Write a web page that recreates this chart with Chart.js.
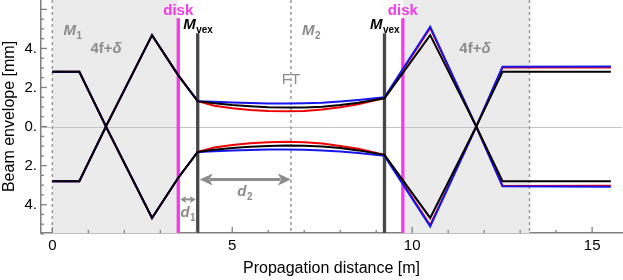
<!DOCTYPE html>
<html>
<head>
<meta charset="utf-8">
<script src="https://cdn.jsdelivr.net/npm/chart.js@4.4.1/dist/chart.umd.min.js"></script>
<style>
  html, body { margin: 0; padding: 0; background: #fff; }
</style>
</head>
<body>
<canvas id="envelopeChart" width="623" height="280"></canvas>
<script>
// beam half-width [mm] versus propagation distance [m]
// first section (4f+delta telescope up to the first convex mirror), same for all three beams
var zIn = [0, 0.75, 1.49, 2.77, 3.5, 4.04];
var wIn = [2.8, 2.8, 0, 4.68, 2.62, 1.3];

// between the two convex mirrors
var zMid = [4.04, 4.5, 5, 5.5, 6, 6.5, 7, 7.5, 8, 8.5, 9.23];
var wBlackMid = [1.3, 1.19, 1.1, 1.04, 0.99, 0.97, 0.98, 1.02, 1.1, 1.22, 1.45];
var wRedMid = [1.3, 1.07, 0.94, 0.85, 0.8, 0.78, 0.8, 0.87, 0.99, 1.14, 1.45];
var wBlueMid = [1.3, 1.27, 1.23, 1.2, 1.18, 1.18, 1.19, 1.22, 1.28, 1.36, 1.5];

// after the second convex mirror
var zOut = [9.23, 10.5, 11.78, 12.51, 15.52];
var wBlackOut = [1.45, 4.68, 0, 2.8, 2.8];
var wRedOut = [1.45, 5.05, 0, 3.04, 3.03];
var wBlueOut = [1.5, 5.11, 0, 3.06, 3.08];

// optical elements [m]
var diskPos = [3.5, 9.74];
var mvexPos = [4.04, 9.23];
var planePos = [0, 6.63, 13.26];
var shadeRanges = [[0, 3.5], [9.74, 13.26]];

var xMajor = [0, 5, 10, 15];
var yLabels = [-4, -2, 0, 2, 4];

var FONT = "'Liberation Sans', Arial, Helvetica, sans-serif";
Chart.defaults.font.family = FONT;

function envelope(wMid, wOut, sign) {
  var pts = [];
  zIn.forEach(function (z, i) { pts.push({ x: z, y: sign * wIn[i] }); });
  zMid.forEach(function (z, i) { if (i > 0) pts.push({ x: z, y: sign * wMid[i] }); });
  zOut.forEach(function (z, i) { if (i > 0) pts.push({ x: z, y: sign * wOut[i] }); });
  return pts;
}

function line(data, color) {
  return {
    data: data,
    showLine: true,
    borderColor: color,
    borderWidth: 2,
    pointRadius: 0,
    fill: false,
    tension: 0
  };
}

function drawSub(ctx, main, subTxt, x, y, color, mainFont, subFont, center) {
  ctx.font = mainFont;
  var w1 = ctx.measureText(main).width;
  ctx.font = subFont;
  var w2 = ctx.measureText(subTxt).width;
  var x0 = center ? x - (w1 + w2) / 2 : x;
  ctx.fillStyle = color;
  ctx.textAlign = "left";
  ctx.textBaseline = "alphabetic";
  ctx.font = mainFont;
  ctx.fillText(main, x0, y);
  ctx.font = subFont;
  ctx.fillText(subTxt, x0 + w1 + 0.5, y + 4);
}

function arrow(ctx, x1, x2, y, head, half, lw, color) {
  ctx.strokeStyle = color;
  ctx.fillStyle = color;
  ctx.lineWidth = lw;
  ctx.beginPath();
  ctx.moveTo(x1 + head * 0.8, y);
  ctx.lineTo(x2 - head * 0.8, y);
  ctx.stroke();
  ctx.beginPath();
  ctx.moveTo(x1, y);
  ctx.lineTo(x1 + head, y - half);
  ctx.lineTo(x1 + head * 0.75, y);
  ctx.lineTo(x1 + head, y + half);
  ctx.closePath();
  ctx.fill();
  ctx.beginPath();
  ctx.moveTo(x2, y);
  ctx.lineTo(x2 - head, y - half);
  ctx.lineTo(x2 - head * 0.75, y);
  ctx.lineTo(x2 - head, y + half);
  ctx.closePath();
  ctx.fill();
}

var setup = {
  id: "setup",
  beforeDatasetsDraw: function (chart) {
    var ctx = chart.ctx, a = chart.chartArea;
    var xs = chart.scales.x, ys = chart.scales.y;
    ctx.save();
    // shaded telescope regions
    ctx.fillStyle = "#ebebeb";
    shadeRanges.forEach(function (r) {
      var l = xs.getPixelForValue(r[0]), rr = xs.getPixelForValue(r[1]);
      ctx.fillRect(l, a.top, rr - l, a.bottom - a.top);
    });
    // zero line
    ctx.strokeStyle = "#c4c4c4";
    ctx.lineWidth = 1;
    var y0 = Math.round(ys.getPixelForValue(0)) + 0.5;
    ctx.beginPath();
    ctx.moveTo(a.left, y0);
    ctx.lineTo(a.right, y0);
    ctx.stroke();
    // dashed planes
    ctx.strokeStyle = "#9a9a9a";
    ctx.lineWidth = 1.5;
    ctx.setLineDash([3, 3]);
    planePos.forEach(function (p) {
      var x = xs.getPixelForValue(p);
      ctx.beginPath();
      ctx.moveTo(x, a.top);
      ctx.lineTo(x, a.bottom);
      ctx.stroke();
    });
    ctx.setLineDash([]);
    // disks
    ctx.strokeStyle = "#f23ce8";
    ctx.lineWidth = 3.3;
    diskPos.forEach(function (p) {
      var x = xs.getPixelForValue(p);
      ctx.beginPath();
      ctx.moveTo(x, ys.getPixelForValue(5.55));
      ctx.lineTo(x, a.bottom);
      ctx.stroke();
    });
    // convex mirrors
    ctx.strokeStyle = "#474747";
    ctx.lineWidth = 3.3;
    mvexPos.forEach(function (p) {
      var x = xs.getPixelForValue(p);
      ctx.beginPath();
      ctx.moveTo(x, ys.getPixelForValue(4.78));
      ctx.lineTo(x, a.bottom);
      ctx.stroke();
    });
    ctx.restore();
  },
  afterDatasetsDraw: function (chart) {
    var ctx = chart.ctx, a = chart.chartArea;
    var xs = chart.scales.x, ys = chart.scales.y;
    var X = function (v) { return xs.getPixelForValue(v); };
    var Y = function (v) { return ys.getPixelForValue(v); };
    var gray = "#8c8c8c";
    ctx.save();

    // labels
    diskPos.forEach(function (p) {
      ctx.font = "bold 15px " + FONT;
      ctx.fillStyle = "#f23ce8";
      ctx.textAlign = "center";
      ctx.textBaseline = "alphabetic";
      ctx.fillText("disk", X(p), Y(5.71));
    });
    mvexPos.forEach(function (p) {
      drawSub(ctx, "M", "vex", X(p), Y(4.99), "#000",
        "italic bold 15px " + FONT, "bold 10px " + FONT, true);
    });
    drawSub(ctx, "M", "1", X(0.31), Y(4.68), gray, "italic bold 15px " + FONT, "bold 10px " + FONT, false);
    drawSub(ctx, "M", "2", X(6.94), Y(4.68), gray, "italic bold 15px " + FONT, "bold 10px " + FONT, false);
    [1.06, 11.31].forEach(function (p) {
      ctx.font = "bold 15px " + FONT;
      ctx.fillStyle = gray;
      ctx.textAlign = "left";
      var w = ctx.measureText("4f+").width;
      ctx.fillText("4f+", X(p), Y(3.76));
      ctx.font = "italic bold 15px " + FONT;
      ctx.fillText("\u03b4", X(p) + w, Y(3.76));
    });
    ctx.font = "15px " + FONT;
    ctx.fillStyle = gray;
    ctx.textAlign = "center";
    ctx.fillText("FT", X(6.63), Y(2.17));

    // distances
    arrow(ctx, X(mvexPos[0]) + 2, X(planePos[1]), Y(-2.71), 13, 6, 3, gray);
    drawSub(ctx, "d", "2", X(5.14), Y(-3.58), gray, "italic bold 15px " + FONT, "bold 10px " + FONT, false);
    arrow(ctx, X(diskPos[0]) + 2, X(mvexPos[0]) - 2, Y(-3.73), 6, 3.5, 2, gray);
    drawSub(ctx, "d", "1", X(3.56), Y(-4.65), gray, "italic bold 15px " + FONT, "bold 10px " + FONT, false);

    // inward frame ticks
    ctx.strokeStyle = "#808080";
    ctx.lineWidth = 1.3;
    for (var v = 0; v <= 15; v++) {
      var x = X(v), len = v % 5 === 0 ? 6 : 3;
      ctx.beginPath();
      ctx.moveTo(x, a.bottom);
      ctx.lineTo(x, a.bottom - len);
      ctx.stroke();
    }
    for (var k = -11; k <= 12; k++) {
      var yv = k * 0.5;
      var yy = Y(yv), l2 = (k % 4 === 0) ? 6 : 3;
      ctx.beginPath();
      ctx.moveTo(a.left, yy);
      ctx.lineTo(a.left + l2, yy);
      ctx.stroke();
    }
    ctx.restore();
  }
};

new Chart(document.getElementById("envelopeChart").getContext("2d"), {
  type: "scatter",
  data: {
    datasets: [
      line(envelope(wBlackMid, wBlackOut, 1), "#000000"),
      line(envelope(wBlackMid, wBlackOut, -1), "#000000"),
      line(envelope(wBlueMid, wBlueOut, 1), "#1515f0"),
      line(envelope(wBlueMid, wBlueOut, -1), "#1515f0"),
      line(envelope(wRedMid, wRedOut, 1), "#ee0000"),
      line(envelope(wRedMid, wRedOut, -1), "#ee0000")
    ]
  },
  options: {
    responsive: false,
    animation: false,
    layout: { padding: { left: 0, right: 1, top: 0, bottom: 0 } },
    plugins: {
      legend: { display: false },
      tooltip: { enabled: false }
    },
    scales: {
      x: {
        type: "linear",
        min: -0.315,
        max: 15.83,
        afterBuildTicks: function (s) {
          s.ticks = xMajor.map(function (v) { return { value: v }; });
        },
        afterFit: function (s) {
          s.height = 47;
          s.paddingLeft = 0;
          s.paddingRight = 0;
        },
        grid: { drawOnChartArea: false, drawTicks: false },
        border: { color: "#808080", width: 1.5 },
        ticks: {
          autoSkip: false,
          maxRotation: 0,
          padding: 4,
          color: "#000",
          font: { size: 15 },
          callback: function (v) { return String(v); }
        },
        title: {
          display: true,
          text: "Propagation distance [m]",
          color: "#000",
          font: { size: 16 },
          padding: { top: 2, bottom: 2 }
        }
      },
      y: {
        type: "linear",
        min: -5.45,
        max: 6.48,
        afterBuildTicks: function (s) {
          s.ticks = yLabels.map(function (v) { return { value: v }; });
        },
        afterFit: function (s) {
          s.width = 41;
          s.paddingTop = 0;
          s.paddingBottom = 0;
        },
        grid: { drawOnChartArea: false, drawTicks: false },
        border: { color: "#808080", width: 1.5 },
        ticks: {
          autoSkip: false,
          padding: 4,
          color: "#000",
          font: { size: 15 },
          callback: function (v) { return Math.abs(v) + "."; }
        },
        title: {
          display: true,
          text: "Beam envelope [mm]",
          color: "#000",
          font: { size: 16 },
          padding: { top: 0, bottom: 0 }
        }
      }
    }
  },
  plugins: [setup]
});
</script>
</body>
</html>
